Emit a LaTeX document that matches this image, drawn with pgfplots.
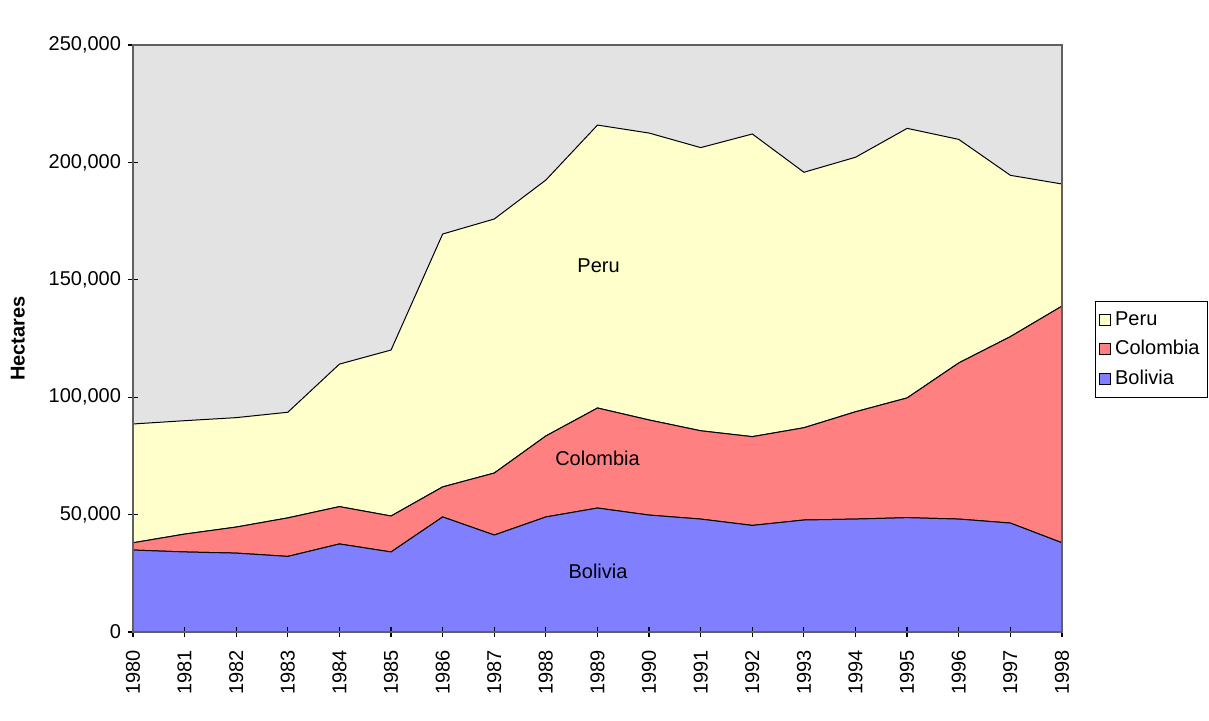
\documentclass[border=0pt]{standalone}
\usepackage{pgfplots}
\pgfplotsset{compat=1.18}
\usepackage{fontspec}
\setmainfont{Liberation Sans}

\definecolor{bolivia}{HTML}{8080FF}
\definecolor{colombia}{HTML}{FF8080}
\definecolor{peru}{HTML}{FFFFCC}
\definecolor{plotbg}{HTML}{E3E3E3}
\definecolor{frame}{HTML}{606060}

\newcommand{\lbl}{\fontsize{10}{12}\selectfont}

\begin{document}
\begin{tikzpicture}
% page size: 1209x720 px at 0.5pt per px, axis origin at px (133,632)
\useasboundingbox (-66.5pt,-44pt) rectangle (538pt,316pt);
\begin{axis}[
    at={(0pt,0pt)}, anchor=south west,
    scale only axis,
    width=464.5pt, height=293.5pt,
    xmin=1980, xmax=1998,
    ymin=0, ymax=250000,
    xtick={1980,...,1998},
    ytick={0,50000,...,250000},
    scaled y ticks=false,
    /pgf/number format/.cd, fixed, precision=0, 1000 sep={,}, assume math mode=true,
    /pgfplots/.cd,
    xticklabel={\pgfmathprintnumber[fixed,1000 sep={}]{\tick}},
    x tick label style={rotate=90, anchor=east, font=\lbl},
    xticklabel shift=3pt,
    y tick label style={font=\lbl},
    xtick pos=left, ytick pos=left,
    tick align=center,
    major tick length=5pt,
    tick style={black, line width=0.6pt},
    axis line style={frame, line width=0.6pt},
    axis background/.style={fill=plotbg},
    ylabel={\bfseries Hectares},
    ylabel style={at={(axis description cs:-0.124,0.5)}, anchor=center, font=\lbl},
    stack plots=y,
    area style,
    reverse legend,
    legend style={at={(axis description cs:1.035,0.399)}, anchor=south west,
        draw=black, font=\lbl, row sep=2pt, inner xsep=2pt, inner ysep=3pt,
        cells={anchor=west}},
    legend image code/.code={\draw[#1, draw=black, line width=0.5pt] (0pt,-2.8pt) rectangle (5.6pt,2.8pt);},
]
% Bolivia
\addplot[fill=bolivia, draw=black, line width=0.5pt] coordinates {
(1980,34900) (1981,34100) (1982,33600) (1983,32200) (1984,37500)
(1985,34100) (1986,49000) (1987,41300) (1988,49000) (1989,52800)
(1990,49800) (1991,48100) (1992,45400) (1993,47700) (1994,48100)
(1995,48700) (1996,48100) (1997,46400) (1998,38000)} \closedcycle;
\addlegendentry{Bolivia}
% Colombia
\addplot[fill=colombia, draw=black, line width=0.5pt] coordinates {
(1980,3100) (1981,7600) (1982,11100) (1983,16400) (1984,15900)
(1985,15300) (1986,12800) (1987,26400) (1988,34500) (1989,42600)
(1990,40500) (1991,37600) (1992,37800) (1993,39300) (1994,45700)
(1995,51000) (1996,66500) (1997,79400) (1998,100800)} \closedcycle;
\addlegendentry{Colombia}
% Peru
\addplot[fill=peru, draw=black, line width=0.5pt] coordinates {
(1980,50600) (1981,48300) (1982,46600) (1983,45000) (1984,60700)
(1985,70700) (1986,107700) (1987,108200) (1988,109000) (1989,120500)
(1990,122200) (1991,120600) (1992,128900) (1993,108800) (1994,108400)
(1995,114800) (1996,95200) (1997,68700) (1998,52000)} \closedcycle;
\addlegendentry{Peru}

\coordinate (lperu) at (axis cs:1989.02,155900);
\coordinate (lcol) at (axis cs:1989.0,74100);
\coordinate (lbol) at (axis cs:1989.01,26000);
\end{axis}
\node[font=\lbl] at (lperu) {Peru};
\node[font=\lbl] at (lcol) {Colombia};
\node[font=\lbl] at (lbol) {Bolivia};
\end{tikzpicture}
\end{document}
